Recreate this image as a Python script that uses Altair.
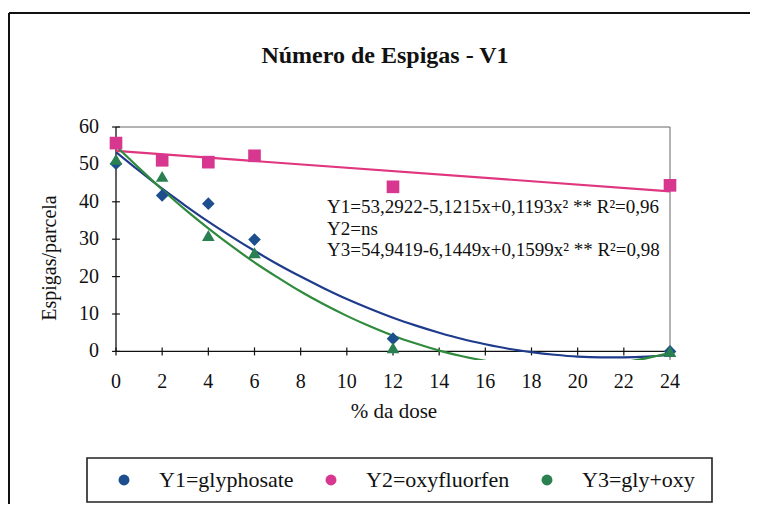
import altair as alt
import pandas as pd

# ---- data ----
DOSE = [0, 2, 4, 6, 12, 24]
Y1_OBS = [50.2, 41.7, 39.5, 29.9, 3.4, 0.0]      # glyphosate
Y2_OBS = [55.7, 51.1, 50.6, 52.3, 44.0, 44.4]    # oxyfluorfen
Y3_OBS = [51.4, 46.8, 31.0, 26.4, 1.0, 0.0]      # gly+oxy

CURVE_X = list(range(25))
Y1_CURVE = [53.3, 48.3, 43.5, 39.0, 34.7, 30.7, 26.9, 23.3, 20.0, 16.9, 14.0, 11.4,
            9.0, 6.9, 5.0, 3.3, 1.9, 0.7, -0.2, -0.9, -1.4, -1.6, -1.6, -1.4, -0.9]
Y3_CURVE = [54.9, 49.0, 43.3, 37.9, 32.9, 28.2, 23.8, 19.8, 16.0, 12.6, 9.5, 6.7,
            4.2, 2.1, 0.2, -1.3, -2.5, -3.4, -3.9, -4.2, -4.1, -3.7, -2.9, -1.8, -0.4]
Y2_LINE_X = [0, 24]
Y2_LINE_Y = [53.6, 42.8]

SERIES = ["Y1=glyphosate", "Y2=oxyfluorfen", "Y3=gly+oxy"]
MARK_COLORS = ["#1d4f8f", "#d8378f", "#2a8050"]
LINE_COLORS = ["#1f3c8c", "#e0357f", "#2f8a3c"]
SHAPES = ["diamond", "square", "triangle-up"]

XTICKS = list(range(0, 25, 2))
YTICKS = list(range(0, 61, 10))
EQUATIONS = ["Y1=53,2922-5,1215x+0,1193x\u00b2  ** R\u00b2=0,96",
             "Y2=ns",
             "Y3=54,9419-6,1449x+0,1599x\u00b2  ** R\u00b2=0,98"]

TITLE = "Número de Espigas - V1"
XTITLE = "% da dose"
YTITLE = "Espigas/parcela"

YMIN, YMAX = -2.3, 60
FONT = "Liberation Serif, Times New Roman, DejaVu Serif, serif"
INK = "#111"

# ---- tables ----
obs = pd.DataFrame({
    "dose": DOSE * 3,
    "value": Y1_OBS + Y2_OBS + Y3_OBS,
    "series": [SERIES[0]] * 6 + [SERIES[1]] * 6 + [SERIES[2]] * 6,
})
curves = pd.DataFrame({
    "dose": CURVE_X + Y2_LINE_X + CURVE_X,
    "value": Y1_CURVE + Y2_LINE_Y + Y3_CURVE,
    "series": [SERIES[0]] * len(CURVE_X) + [SERIES[1]] * 2 + [SERIES[2]] * len(CURVE_X),
})
xt = pd.DataFrame({"t": XTICKS})
yt = pd.DataFrame({"t": YTICKS})

xscale = alt.Scale(domain=[0, 24], nice=False, zero=False)
yscale = alt.Scale(domain=[YMIN, YMAX], nice=False, zero=False)


def qx(f):
    return alt.X(f, scale=xscale, axis=None)


def qy(f):
    return alt.Y(f, scale=yscale, axis=None)


color_scale = alt.Scale(domain=SERIES, range=MARK_COLORS)
line_scale = alt.Scale(domain=SERIES, range=LINE_COLORS)
shape_scale = alt.Scale(domain=SERIES, range=SHAPES)

lines = alt.Chart(curves).mark_line(strokeWidth=2.2, clip=True, interpolate="monotone").encode(
    x=qx("dose:Q"), y=qy("value:Q"),
    stroke=alt.Stroke("series:N", scale=line_scale, legend=None),
    detail="series:N",
)

legend = alt.Legend(orient="none", legendX=-3, legendY=342,
                    direction="horizontal", columns=3,
                    symbolSize=120, labelFont=FONT, labelFontSize=22,
                    labelColor=INK, labelOffset=24,
                    columnPadding=26, padding=0, symbolStrokeWidth=0)
points = alt.Chart(obs).mark_point(filled=True, size=160, opacity=1).encode(
    x=qx("dose:Q"), y=qy("value:Q"),
    color=alt.Color("series:N", scale=color_scale, title=None, legend=legend),
    shape=alt.Shape("series:N", scale=shape_scale, title=None, legend=legend),
    order=alt.Order("series:N"),
)

# axis lines through the origin, crossing ticks, tick labels and plot frame
xline = alt.Chart(alt.Data(values=[{"a": 0, "b": 24, "y": 0}])).mark_rule(color=INK, strokeWidth=1.3).encode(
    x=qx("a:Q"), x2="b:Q", y=qy("y:Q"))
yline = alt.Chart(alt.Data(values=[{"x": 0, "a": 0, "b": 60}])).mark_rule(color=INK, strokeWidth=1.3).encode(
    x=qx("x:Q"), y=qy("a:Q"), y2="b:Q")
xticks = alt.Chart(xt).transform_calculate(lo="-1.07", hi="1.07").mark_rule(
    color=INK, strokeWidth=1.2).encode(x=qx("t:Q"), y=qy("lo:Q"), y2="hi:Q")
yticks = alt.Chart(yt).transform_calculate(lo="-0.17", hi="0.17").mark_rule(
    color=INK, strokeWidth=1.2).encode(y=qy("t:Q"), x=qx("lo:Q"), x2="hi:Q")
xlabels = alt.Chart(xt).transform_calculate(z="0").mark_text(
    align="center", baseline="middle", dy=31, font=FONT, fontSize=20, color=INK).encode(
    x=qx("t:Q"), y=qy("z:Q"), text="t:Q")
ylabels = alt.Chart(yt).transform_calculate(z="0").mark_text(
    align="right", baseline="middle", dx=-17, font=FONT, fontSize=20, color=INK).encode(
    x=qx("z:Q"), y=qy("t:Q"), text="t:Q")
ftop = alt.Chart(alt.Data(values=[{"a": 0, "b": 24, "y": 60}])).mark_rule(color="#666", strokeWidth=1).encode(
    x=qx("a:Q"), x2="b:Q", y=qy("y:Q"))
fright = alt.Chart(alt.Data(values=[{"x": 24, "a": YMIN, "b": 60}])).mark_rule(color="#666", strokeWidth=1).encode(
    x=qx("x:Q"), y=qy("a:Q"), y2="b:Q")

one = alt.Data(values=[{"k": 1}])
xtitle = alt.Chart(one).mark_text(align="center", baseline="middle", font=FONT, fontSize=21,
                                  color=INK).encode(
    x=alt.value(278), y=alt.value(285), text=alt.value(XTITLE))
ytitle = alt.Chart(one).mark_text(align="center", baseline="middle", font=FONT, fontSize=20,
                                  angle=270, color=INK).encode(
    x=alt.value(-66), y=alt.value(131), text=alt.value(YTITLE))
eq = alt.Chart(one).mark_text(align="left", baseline="alphabetic", font=FONT, fontSize=19,
                              lineHeight=21.5, color=INK).encode(
    x=alt.value(211), y=alt.value(86), text=alt.value(EQUATIONS))
title_text = alt.Chart(one).mark_text(align="center", baseline="alphabetic", font=FONT,
                                      fontSize=24, fontWeight="bold", color=INK).encode(
    x=alt.value(269), y=alt.value(-64), text=alt.value(TITLE))

legend_box = alt.Chart(one).mark_rect(fillOpacity=0, stroke="#222", strokeWidth=1.6).encode(
    x=alt.value(-29), x2=alt.value(596), y=alt.value(331), y2=alt.value(375))

outer_left = alt.Chart(one).mark_rule(color=INK, strokeWidth=2).encode(
    x=alt.value(-107), y=alt.value(-114), y2=alt.value(400))
outer_top = alt.Chart(one).mark_rule(color=INK, strokeWidth=2).encode(
    x=alt.value(-107), x2=alt.value(700), y=alt.value(-114))

chart = alt.layer(
    ftop, fright, xline, yline, xticks, yticks, xlabels, ylabels, lines, points,
    outer_left, outer_top, xtitle, ytitle, eq, title_text, legend_box,
).resolve_scale(color="independent").properties(
    width=554, height=233,
    autosize=alt.AutoSizeParams(type="none"),
    padding={"left": 108, "top": 119, "right": 80, "bottom": 144},
    background="white",
).configure(font=FONT).configure_view(stroke=None).configure_legend(labelFont=FONT)

chart.save("out.html", embed_options={"renderer": "svg", "actions": False})
